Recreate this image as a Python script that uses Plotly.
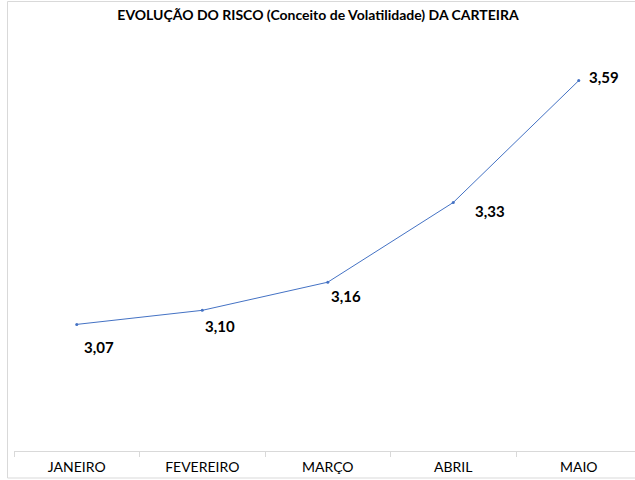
import plotly.graph_objects as go

months = ["JANEIRO", "FEVEREIRO", "MARÇO", "ABRIL", "MAIO"]
risk = [3.07, 3.10, 3.16, 3.33, 3.59]
risk_labels = ["3,07", "3,10", "3,16", "3,33", "3,59"]

# label offsets (pixels) relative to each point
label_dx = [22, 18, 18, 37, 25]
label_dy = [-23, -16, -14, -9, 4]

FONT = "Lato"
W, H = 635, 480
ML, MR, MT, MB = 14, 0, 29, 29
pw, ph = W - ML - MR, H - MT - MB

fig = go.Figure()
fig.add_trace(go.Scatter(
    x=months, y=risk, mode="lines+markers",
    line=dict(color="#4472C4", width=1),
    marker=dict(size=3, color="#4472C4"),
    hoverinfo="skip", showlegend=False,
))

for m, v, t, dx, dy in zip(months, risk, risk_labels, label_dx, label_dy):
    fig.add_annotation(x=m, y=v, text="<b>%s</b>" % t, showarrow=False,
                       xshift=dx, yshift=dy,
                       font=dict(family=FONT, size=15, color="#000000"))

fig.add_shape(type="rect", xref="paper", yref="paper",
              x0=(7.5 - ML) / pw, x1=1.05,
              y0=-(478 - (H - MB)) / ph, y1=((H - MB) - 1.5) / ph,
              line=dict(color="#d9d9d9", width=1), fillcolor="rgba(0,0,0,0)")

fig.update_layout(
    width=W, height=H,
    margin=dict(l=ML, r=MR, t=MT, b=MB),
    paper_bgcolor="white", plot_bgcolor="white",
    title=dict(text="<b>EVOLUÇÃO DO RISCO (Conceito de Volatilidade) DA CARTEIRA</b>",
               x=318 / W, xanchor="center", y=1 - 15 / H, yanchor="middle",
               font=dict(family=FONT, size=14, color="#000000")),
    xaxis=dict(type="category", range=[-0.5, -0.5 + pw / 125.5],
               showline=True, linecolor="#d9d9d9", linewidth=1,
               ticks="outside", ticklen=5, tickcolor="#d9d9d9", tickson="boundaries",
               ticklabelstandoff=3,
               showgrid=False, zeroline=False,
               tickfont=dict(family=FONT, size=14, color="#000000")),
    yaxis=dict(range=[2.8, 3.7], visible=False, showgrid=False, zeroline=False),
)

fig.write_html("out.html", config={"displayModeBar": False},
               post_script="document.body.style.margin='0px';document.body.style.overflow='hidden';")
